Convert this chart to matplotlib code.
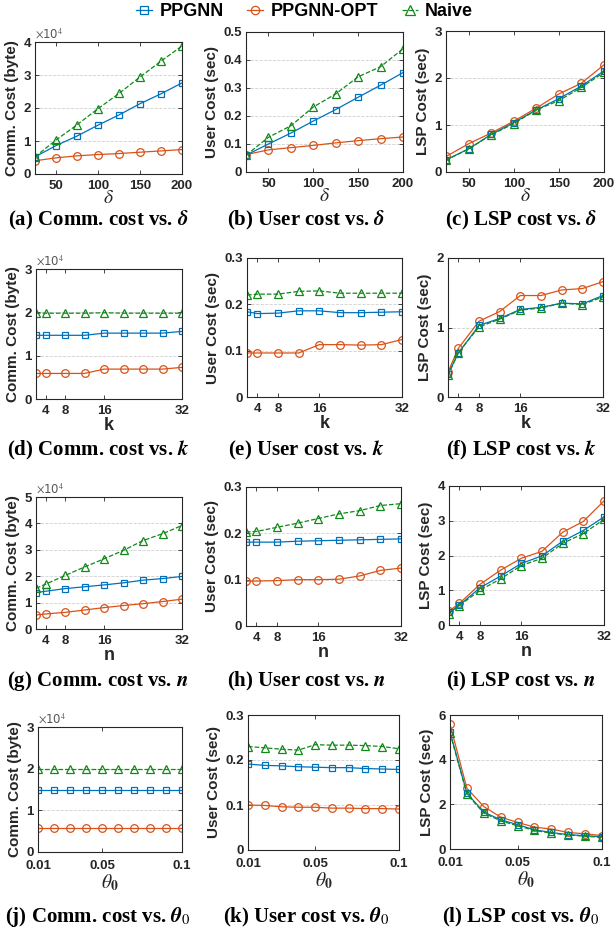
import numpy as np
import matplotlib.pyplot as plt
from matplotlib.ticker import FuncFormatter
from matplotlib.lines import Line2D

plt.rcParams['font.family'] = ['Liberation Sans', 'DejaVu Sans']
plt.rcParams['mathtext.fontset'] = 'stix'

# x values
delta = [25, 50, 75, 100, 125, 150, 175, 200]
kn = [2, 4, 8, 12, 16, 20, 24, 28, 32]
theta = [0.01, 0.02, 0.03, 0.04, 0.05, 0.06, 0.07, 0.08, 0.09, 0.1]

# comm. cost in 10^4 bytes, user / LSP cost in sec
comm_d_ppgnn = [0.52, 0.86, 1.15, 1.48, 1.79, 2.13, 2.43, 2.76]
comm_d_opt = [0.40, 0.49, 0.55, 0.59, 0.62, 0.66, 0.70, 0.74]
comm_d_naive = [0.52, 1.03, 1.49, 1.98, 2.44, 2.94, 3.42, 3.88]

user_d_ppgnn = [0.060, 0.100, 0.139, 0.182, 0.223, 0.267, 0.310, 0.355]
user_d_opt = [0.062, 0.079, 0.087, 0.095, 0.104, 0.112, 0.119, 0.125]
user_d_naive = [0.060, 0.124, 0.165, 0.232, 0.279, 0.340, 0.376, 0.440]

lsp_d_ppgnn = [0.26, 0.49, 0.80, 1.05, 1.32, 1.56, 1.83, 2.15]
lsp_d_opt = [0.33, 0.60, 0.83, 1.08, 1.36, 1.66, 1.89, 2.28]
lsp_d_naive = [0.25, 0.49, 0.79, 1.03, 1.32, 1.52, 1.80, 2.12]

comm_k_ppgnn = [1.47, 1.47, 1.47, 1.47, 1.52, 1.52, 1.52, 1.52, 1.56]
comm_k_opt = [0.59, 0.59, 0.59, 0.59, 0.69, 0.69, 0.69, 0.69, 0.73]
comm_k_naive = [1.98, 1.98, 1.98, 1.98, 1.99, 1.98, 1.98, 1.98, 1.98]

user_k_ppgnn = [0.184, 0.180, 0.181, 0.186, 0.186, 0.182, 0.182, 0.183, 0.184]
user_k_opt = [0.095, 0.095, 0.095, 0.095, 0.113, 0.113, 0.112, 0.113, 0.124]
user_k_naive = [0.220, 0.222, 0.222, 0.228, 0.229, 0.224, 0.224, 0.224, 0.224]

lsp_k_ppgnn = [0.33, 0.63, 1.03, 1.13, 1.26, 1.29, 1.35, 1.34, 1.46]
lsp_k_opt = [0.36, 0.70, 1.09, 1.23, 1.46, 1.46, 1.54, 1.56, 1.66]
lsp_k_naive = [0.31, 0.64, 1.01, 1.12, 1.25, 1.28, 1.35, 1.33, 1.44]

comm_n_ppgnn = [1.38, 1.43, 1.53, 1.60, 1.67, 1.75, 1.85, 1.91, 1.99]
comm_n_opt = [0.53, 0.57, 0.63, 0.72, 0.81, 0.89, 0.96, 1.04, 1.13]
comm_n_naive = [1.54, 1.70, 2.03, 2.35, 2.66, 2.98, 3.35, 3.61, 3.92]

user_n_ppgnn = [0.181, 0.181, 0.181, 0.183, 0.184, 0.185, 0.186, 0.187, 0.188]
user_n_opt = [0.097, 0.097, 0.098, 0.100, 0.100, 0.101, 0.108, 0.120, 0.125]
user_n_naive = [0.203, 0.204, 0.213, 0.222, 0.232, 0.242, 0.249, 0.260, 0.264]

lsp_n_ppgnn = [0.36, 0.57, 1.07, 1.41, 1.77, 1.99, 2.41, 2.72, 3.11]
lsp_n_opt = [0.40, 0.62, 1.17, 1.58, 1.92, 2.12, 2.67, 2.98, 3.57]
lsp_n_naive = [0.33, 0.56, 1.00, 1.33, 1.71, 1.92, 2.35, 2.63, 3.04]

comm_t_ppgnn = [1.5] * 10
comm_t_opt = [0.58] * 10
comm_t_naive = [2.0] * 10

user_t_ppgnn = [0.191, 0.188, 0.187, 0.185, 0.184, 0.183, 0.183, 0.181, 0.180, 0.179]
user_t_opt = [0.100, 0.099, 0.096, 0.095, 0.095, 0.093, 0.093, 0.092, 0.092, 0.091]
user_t_naive = [0.230, 0.227, 0.224, 0.222, 0.234, 0.233, 0.233, 0.232, 0.230, 0.225]

lsp_t_ppgnn = [5.24, 2.50, 1.65, 1.31, 1.09, 0.86, 0.74, 0.64, 0.60, 0.54]
lsp_t_opt = [5.58, 2.72, 1.90, 1.43, 1.19, 0.98, 0.89, 0.74, 0.68, 0.60]
lsp_t_naive = [5.20, 2.46, 1.61, 1.26, 1.04, 0.83, 0.71, 0.63, 0.57, 0.52]

BLUE = '#0072BD'
ORANGE = '#D95319'
GREEN = '#11891A'
DARK = '#262626'

W, H = 614, 936
fig = plt.figure(figsize=(W / 100, H / 100), dpi=100)

def box(x0, y0, x1, y1):
    return [x0 / W, 1 - y1 / H, (x1 - x0) / W, (y1 - y0) / H]

fmt = FuncFormatter(lambda v, p: '%g' % v)

panels = [
    # (pixel box, x, ppgnn, opt, naive, xlim, xticks, ylim, yticks, ylabel, xlabel, exp, caption)
    ((35, 42, 182, 174), delta, comm_d_ppgnn, comm_d_opt, comm_d_naive, (25, 200), [50, 100, 150, 200],
     (0, 4), [0, 1, 2, 3, 4], 'Comm. Cost (byte)', r'$\delta$', True, r'(a) Comm. cost vs. $\boldsymbol{\delta}$'),
    ((246, 32, 403, 172), delta, user_d_ppgnn, user_d_opt, user_d_naive, (25, 200), [50, 100, 150, 200],
     (0, 0.5), [0, 0.1, 0.2, 0.3, 0.4, 0.5], 'User Cost (sec)', r'$\delta$', False, r'(b) User cost vs. $\boldsymbol{\delta}$'),
    ((446, 31, 604, 172), delta, lsp_d_ppgnn, lsp_d_opt, lsp_d_naive, (25, 200), [50, 100, 150, 200],
     (0, 3), [0, 1, 2, 3], 'LSP Cost (sec)', r'$\delta$', False, r'(c) LSP cost vs. $\boldsymbol{\delta}$'),

    ((36, 269, 182, 399), kn, comm_k_ppgnn, comm_k_opt, comm_k_naive, (2, 32), [4, 8, 16, 32],
     (0, 3), [0, 1, 2, 3], 'Comm. Cost (byte)', 'k', True, r'(d) Comm. cost vs. $\boldsymbol{k}$'),
    ((247, 258, 402, 397), kn, user_k_ppgnn, user_k_opt, user_k_naive, (2, 32), [4, 8, 16, 32],
     (0, 0.3), [0, 0.1, 0.2, 0.3], 'User Cost (sec)', 'k', False, r'(e) User cost vs. $\boldsymbol{k}$'),
    ((448, 258, 603, 397), kn, lsp_k_ppgnn, lsp_k_opt, lsp_k_naive, (2, 32), [4, 8, 16, 32],
     (0, 2), [0, 1, 2], 'LSP Cost (sec)', 'k', False, r'(f) LSP cost vs. $\boldsymbol{k}$'),

    ((36, 497, 182, 629), kn, comm_n_ppgnn, comm_n_opt, comm_n_naive, (2, 32), [4, 8, 16, 32],
     (0, 5), [0, 1, 2, 3, 4, 5], 'Comm. Cost (byte)', 'n', True, r'(g) Comm. cost vs. $\boldsymbol{n}$'),
    ((246, 487, 401, 626), kn, user_n_ppgnn, user_n_opt, user_n_naive, (2, 32), [4, 8, 16, 32],
     (0, 0.3), [0, 0.1, 0.2, 0.3], 'User Cost (sec)', 'n', False, r'(h) User cost vs. $\boldsymbol{n}$'),
    ((449, 486, 604, 625), kn, lsp_n_ppgnn, lsp_n_opt, lsp_n_naive, (2, 32), [4, 8, 16, 32],
     (0, 4), [0, 1, 2, 3, 4], 'LSP Cost (sec)', 'n', False, r'(i) LSP cost vs. $\boldsymbol{n}$'),

    ((38, 727, 182, 852), theta, comm_t_ppgnn, comm_t_opt, comm_t_naive, (0.01, 0.1), [0.01, 0.05, 0.1],
     (0, 3), [0, 1, 2, 3], 'Comm. Cost (byte)', r'$\theta_\mathbf{0}$', True, r'(j) Comm. cost vs. $\boldsymbol{\theta}_0$'),
    ((248, 715, 399, 850), theta, user_t_ppgnn, user_t_opt, user_t_naive, (0.01, 0.1), [0.01, 0.05, 0.1],
     (0, 0.3), [0, 0.1, 0.2, 0.3], 'User Cost (sec)', r'$\theta_\mathbf{0}$', False, r'(k) User cost vs. $\boldsymbol{\theta}_0$'),
    ((450, 715, 602, 849), theta, lsp_t_ppgnn, lsp_t_opt, lsp_t_naive, (0.01, 0.1), [0.01, 0.05, 0.1],
     (0, 6), [0, 2, 4, 6], 'LSP Cost (sec)', r'$\theta_\mathbf{0}$', False, r'(l) LSP cost vs. $\boldsymbol{\theta}_0$'),
]

cap_x = [98, 306, 521]
cap_y = [220, 450, 681, 917]

for i, (b, x, yp, yo, yn, xl, xt, yl, yt, ylab, xlab, exp, cap) in enumerate(panels):
    ax = fig.add_axes(box(*b))
    ax.plot(x, yo, '-', color=ORANGE, lw=0.9, marker='o', ms=5.5, mfc='none', mew=0.9)
    ax.plot(x, yp, '-', color=BLUE, lw=0.9, marker='s', ms=5, mfc='none', mew=0.9)
    ax.plot(x, yn, '--', color=GREEN, lw=0.9, marker='^', ms=6, mfc='none', mew=0.9)
    ax.set_xlim(*xl)
    ax.set_ylim(*yl)
    ax.set_xticks(xt)
    ax.set_yticks(yt)
    ax.xaxis.set_major_formatter(fmt)
    ax.yaxis.set_major_formatter(fmt)
    ax.grid(axis='y', color='#d0d0d0', ls='--', lw=0.6)
    ax.set_axisbelow(True)
    for s in ax.spines.values():
        s.set_color(DARK)
        s.set_linewidth(0.8)
    ax.tick_params(direction='in', length=3, width=0.6, top=True, right=True, colors=DARK,
                   labelsize=9.5, pad=3)
    ax.tick_params(axis='x', pad=6 if x is theta else 4)
    for t in ax.get_xticklabels() + ax.get_yticklabels():
        t.set_fontweight('bold')
    ax.set_ylabel(ylab, fontsize=11, fontweight='bold', color=DARK, labelpad=3)
    if xlab in ('k', 'n'):
        ax.set_xlabel(xlab, fontsize=13, fontweight='bold', color=DARK, labelpad=0)
    elif 'delta' in xlab:
        ax.set_xlabel(xlab, fontsize=14, color=DARK, labelpad=-1)
    else:
        ax.set_xlabel(xlab, fontsize=14, color=DARK, labelpad=0)
    if exp:
        ax.text(0.0, 1.01, r'$\times$10$^4$', transform=ax.transAxes, fontsize=8.5,
                color='#555555', ha='left', va='bottom', family='DejaVu Sans')
    fig.text(cap_x[i % 3] / W, 1 - cap_y[i // 3] / H, cap, ha='center', va='center',
             fontsize=15, fontweight='bold', family=['Liberation Serif', 'DejaVu Serif'])

handles = [
    Line2D([], [], color=BLUE, lw=0.9, marker='s', ms=5.5, mfc='none', mew=0.9),
    Line2D([], [], color=ORANGE, lw=0.9, marker='o', ms=6, mfc='none', mew=0.9),
    Line2D([], [], color=GREEN, lw=0.9, ls='--', marker='^', ms=6.5, mfc='none', mew=0.9),
]
fig.legend(handles, ['PPGNN', 'PPGNN-OPT', 'Naive'], loc='center', bbox_to_anchor=(0.496, 1 - 12 / H),
           ncol=3, frameon=False, prop={'weight': 'bold', 'size': 13}, handlelength=0.9,
           handletextpad=0.4, columnspacing=1.3)

plt.savefig('out.png', dpi=100)
